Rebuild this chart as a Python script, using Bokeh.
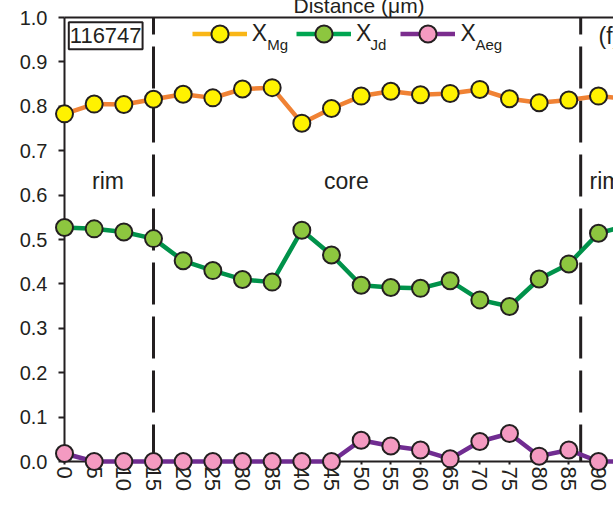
from bokeh.plotting import figure
from bokeh.models import (Range1d, LinearAxis, FixedTicker, Span, Label, Legend,
                          LegendItem, NumeralTickFormatter)
from bokeh.core.properties import value
from bokeh.embed import file_html
from bokeh.resources import INLINE

# ---------------- data ----------------
distance = [0, 5, 10, 15, 20, 25, 30, 35, 40, 45, 50, 55, 60, 65, 70, 75, 80, 85, 90, 95]
x_mg = [0.783, 0.805, 0.804, 0.816, 0.827, 0.819, 0.839, 0.842, 0.762, 0.795,
        0.823, 0.834, 0.826, 0.829, 0.838, 0.817, 0.808, 0.814, 0.823, 0.817]
x_jd = [0.527, 0.524, 0.517, 0.502, 0.452, 0.430, 0.410, 0.404, 0.521, 0.465,
        0.397, 0.392, 0.390, 0.407, 0.364, 0.349, 0.411, 0.445, 0.514, 0.532]
x_aeg = [0.018, 0.0, 0.0, 0.0, 0.0, 0.0, 0.0, 0.0, 0.0, 0.0,
         0.048, 0.035, 0.026, 0.006, 0.045, 0.063, 0.012, 0.026, 0.0, 0.0]
x_ticks = [0, 5, 10, 15, 20, 25, 30, 35, 40, 45, 50, 55, 60, 65, 70, 75, 80, 85, 90]
y_ticks = [0.0, 0.1, 0.2, 0.3, 0.4, 0.5, 0.6, 0.7, 0.8, 0.9, 1.0]
boundaries = [15, 87]
zone_labels = ["rim", "core", "rim"]
series_subscripts = ["Mg", "Jd", "Aeg"]
sample_id = "116747"
panel_label = "(f)"
axis_title = "Distance (\u03bcm)"

# ---------------- style ----------------
FONT = "Liberation Sans"
INK = "#231F20"
line_colors = ["#F08234", "#00924A", "#702C91"]
fill_colors = ["#FFF200", "#8DC63F", "#F49AC1"]
legend_line_colors = ["#F9B617", "#00A651", "#7B2D8E"]

X_END = 92.53
p = figure(width=613, height=505, output_backend="svg", toolbar_location=None,
           x_range=Range1d(0, X_END), y_range=Range1d(0, 1),
           min_border_left=64, min_border_right=0, min_border_top=17, min_border_bottom=44)
p.grid.visible = False
p.outline_line_color = None
p.background_fill_color = "white"
p.border_fill_color = "white"

# axes
xa = p.xaxis[0]
xa.ticker = FixedTicker(ticks=x_ticks)
xa.major_label_orientation = "vertical"
xa.major_label_text_font = FONT
xa.major_label_text_font_size = "22px"
xa.major_label_text_color = INK
xa.major_label_standoff = 2
xa.major_tick_out = 3
xa.major_tick_in = 0
xa.minor_tick_out = 0
xa.minor_tick_in = 0
xa.axis_line_width = 2
xa.axis_line_color = INK
xa.major_tick_line_width = 2
xa.major_tick_line_color = INK

ya = p.yaxis[0]
ya.ticker = FixedTicker(ticks=y_ticks)
ya.formatter = NumeralTickFormatter(format="0.0")
ya.major_label_text_font = FONT
ya.major_label_text_font_size = "20px"
ya.major_label_text_color = INK
ya.major_label_standoff = 11
ya.major_tick_out = 6
ya.major_tick_in = 0
ya.minor_tick_out = 0
ya.minor_tick_in = 0
ya.axis_line_width = 2
ya.axis_line_color = INK
ya.major_tick_line_width = 2
ya.major_tick_line_color = INK

top = LinearAxis(ticker=FixedTicker(ticks=[]), major_label_text_font_size="0px",
                 major_tick_out=0, major_tick_in=0, minor_tick_out=0, minor_tick_in=0,
                 axis_line_width=2, axis_line_color=INK, major_label_standoff=0)
p.add_layout(top, "above")

# boundary lines
for b in boundaries:
    p.add_layout(Span(location=b, dimension="height", line_color=INK, line_width=3,
                      line_dash="42 12", line_dash_offset=25))

# series
series = [x_mg, x_jd, x_aeg]
for vals, lc, fc in zip(series, line_colors, fill_colors):
    p.line(distance, vals, line_color=lc, line_width=4.5, level="overlay")
    p.scatter(distance, vals, size=17, fill_color=fc, line_color=INK, line_width=2,
              level="overlay")

# legend samples (own colours, hidden from the plot area)
items = []
for vals, lc, fc in zip(series, legend_line_colors, fill_colors):
    lr = p.line(distance, vals, line_color=lc, line_width=4.5, visible=False)
    sr = p.scatter(distance, vals, size=17, fill_color=fc, line_color=INK, line_width=2,
                   visible=False)
    items.append(LegendItem(label="X", renderers=[lr, sr], index=0))
legend = Legend(items=items, orientation="horizontal", location=(127.7, 405.7),
                glyph_width=55, glyph_height=43, label_standoff=5, spacing=29,
                label_width=0, padding=0, margin=0, border_line_color=None,
                background_fill_alpha=0, inactive_fill_alpha=0, label_text_font=FONT,
                label_text_font_size="23px", label_text_color=INK)
p.add_layout(legend)

PXX = 549.0 / X_END   # px per distance unit
def dx(px):
    return (px - 64) / PXX
def dy(py):
    return (461 - py) / 444.0

for sub, px in zip(series_subscripts, [266.7, 370.0, 475.0]):
    p.add_layout(Label(x=dx(px), y=dy(44), text=sub, text_font=FONT,
                       text_font_size="15px", text_color=INK,
                       text_baseline="middle", text_align="left"))

# zone labels
for txt, px, al in zip(zone_labels, [107.5, 345.8, 589.0], ["center", "center", "left"]):
    p.add_layout(Label(x=dx(px), y=dy(180), text=txt, text_font=FONT,
                       text_font_size="23px", text_color=INK,
                       text_baseline="middle", text_align=al))

# sample id box
p.add_layout(Label(x=dx(68.3), y=dy(21.7), text=sample_id, text_font=FONT,
                   text_font_size="22px", text_color=INK, anchor="top_left",
                   text_align="left", text_baseline="top",
                   border_line_color=INK, border_line_width=2, padding=(1, 6),
                   background_fill_color="white"))

# panel label (cut by the canvas edge like the reference)
p.add_layout(Label(x=dx(598), y=dy(35), text=panel_label, text_font=FONT,
                   text_font_size="23px", text_color=INK,
                   text_baseline="middle", text_align="left"))

# top axis title, partly above the canvas as in the reference
p.text(x=[dx(293)], y=[dy(5)], text=[axis_title], text_font=value(FONT),
       text_font_size="21px", text_color=INK, text_baseline="alphabetic",
       text_align="left", level="overlay")

open("out.html", "w").write(file_html(p, INLINE))
